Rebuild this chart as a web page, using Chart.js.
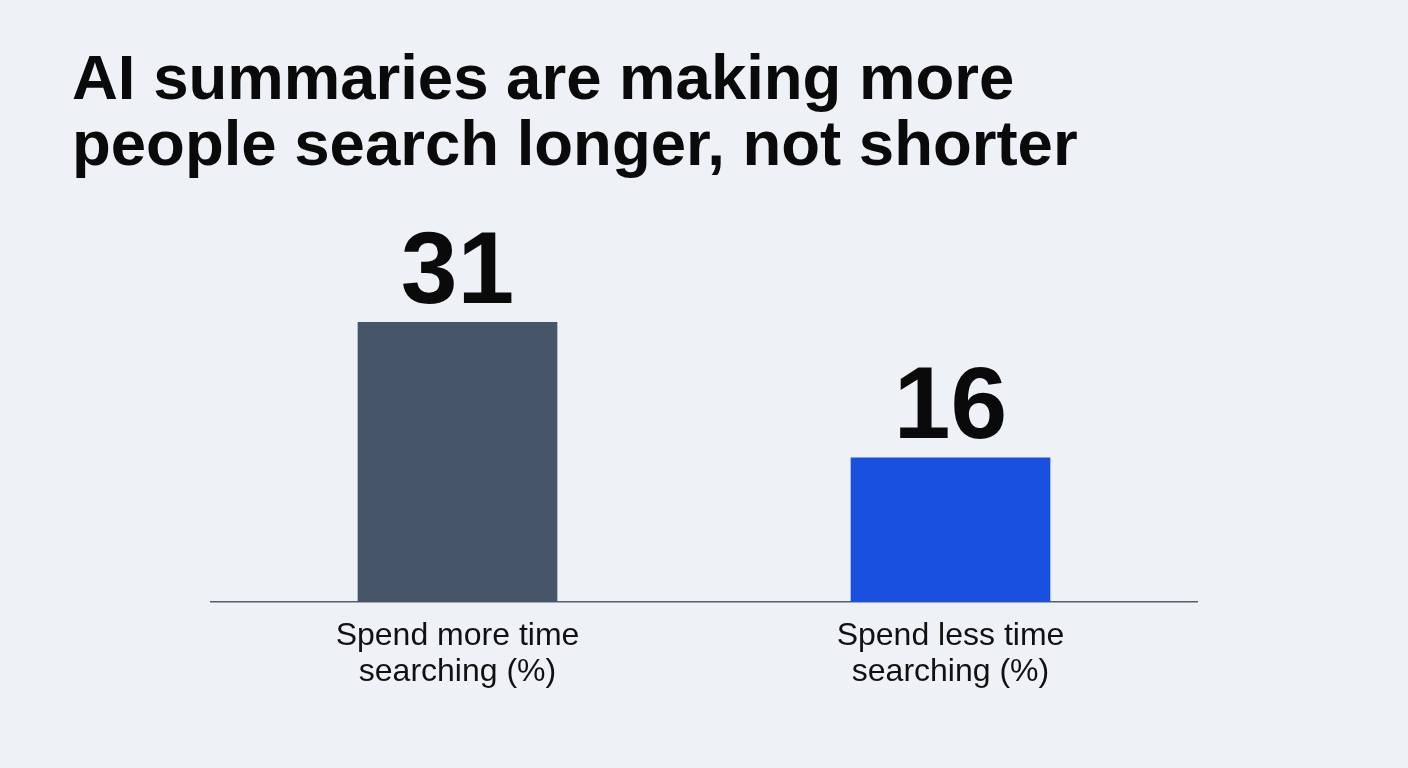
<!DOCTYPE html>
<html>
<head>
<meta charset="utf-8">
<script src="https://cdn.jsdelivr.net/npm/chart.js@4"></script>
<style>
  html,body{margin:0;padding:0;background:#eef1f5;}
  #wrap{position:relative;width:1408px;height:768px;overflow:hidden;background:#eef1f5;}
  #title{position:absolute;left:72px;top:44px;margin:0;font-family:"Liberation Sans",Arial,sans-serif;
    font-weight:700;font-size:63.5px;line-height:66px;color:#0a0a0a;}
  canvas{position:absolute;left:0;top:0;}
</style>
</head>
<body>
<div id="wrap">
  <h1 id="title">AI summaries are making more<br>people search longer, not shorter</h1>
  <canvas id="chart" width="1408" height="768"></canvas>
</div>
<script>
const categories=[["Spend more time","searching (%)"],["Spend less time","searching (%)"]];
const values=[31,16];
const barColors=['#475569','#1a50e0'];

// big numbers on top of each bar
const valueLabels={
  id:'valueLabels',
  afterDatasetsDraw(chart){
    const ctx=chart.ctx;
    const meta=chart.getDatasetMeta(0);
    ctx.save();
    ctx.font='bold 102px "Liberation Sans", Arial, sans-serif';
    ctx.fillStyle='#0a0a0a';
    ctx.textAlign='center';
    ctx.textBaseline='alphabetic';
    meta.data.forEach((bar,i)=>{
      ctx.fillText(String(values[i]),bar.x,bar.y-19);
    });
    ctx.restore();
  }
};

new Chart(document.getElementById('chart').getContext('2d'),{
  type:'bar',
  data:{
    labels:categories,
    datasets:[{
      data:values,
      backgroundColor:barColors,
      borderWidth:0,
      barPercentage:0.81,
      categoryPercentage:0.5
    }]
  },
  options:{
    responsive:false,
    animation:false,
    layout:{padding:{left:211,right:211,top:200,bottom:62}},
    plugins:{legend:{display:false},tooltip:{enabled:false},title:{display:false}},
    scales:{
      x:{
        grid:{display:false,drawTicks:false},
        border:{display:true,color:'#5b5f66',width:1.5},
        ticks:{color:'#111',padding:16,font:{family:'"Liberation Sans", Arial, sans-serif',size:32,lineHeight:'36px'}}
      },
      y:{display:false,min:0,max:44.5}
    }
  },
  plugins:[valueLabels]
});
</script>
</body>
</html>
